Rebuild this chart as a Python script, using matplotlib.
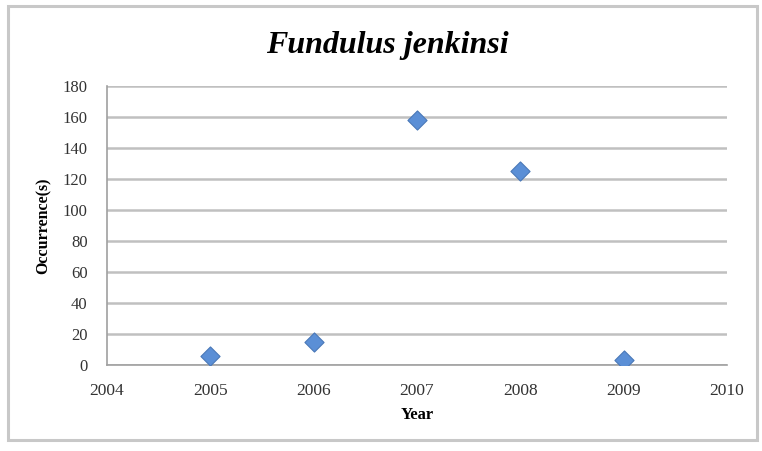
import matplotlib.pyplot as plt
from matplotlib.patches import Rectangle

# occurrences per year
years = [2005, 2006, 2007, 2008, 2009]
counts = [6, 15, 158, 125, 3]

xticks = [2004, 2005, 2006, 2007, 2008, 2009, 2010]
yticks = [0, 20, 40, 60, 80, 100, 120, 140, 160, 180]

plt.rcParams['font.family'] = ['Liberation Serif', 'DejaVu Serif']

fig = plt.figure(figsize=(7.62, 4.51), dpi=100)
ax = fig.add_axes([0.1404, 0.1907, 0.8136, 0.6186])

# outer chart border
fig.patches.append(Rectangle((0.011, 0.024), 0.982, 0.963, transform=fig.transFigure,
                             fill=False, edgecolor='#c8c8c8', linewidth=2.2))

ax.scatter(years, counts, marker='D', s=95, color='#5b8fd6', edgecolor='#4a78b8',
           linewidth=0.8, zorder=3)

ax.set_xlim(2004, 2010)
ax.set_ylim(0, 180)
ax.set_xticks(xticks)
ax.set_yticks(yticks)
ax.yaxis.grid(True, color='#c0c0c0', linewidth=1.8)
ax.set_axisbelow(True)

for s in ['top', 'right']:
    ax.spines[s].set_visible(False)
for s in ['left', 'bottom']:
    ax.spines[s].set_color('#a0a0a0')
    ax.spines[s].set_linewidth(1.2)

ax.tick_params(length=0, colors='#333333')
ax.tick_params(axis='x', labelsize=12.5, pad=13)
ax.tick_params(axis='y', labelsize=12, pad=14)

fig.text(0.508, 0.9, 'Fundulus jenkinsi', fontsize=23, fontweight='bold', style='italic',
         ha='center', va='center')
ax.set_xlabel('Year', fontsize=12, fontweight='bold', labelpad=6)
ax.set_ylabel('Occurrence(s)', fontsize=11.5, fontweight='bold', labelpad=8)

fig.savefig('out.png', dpi=100)
